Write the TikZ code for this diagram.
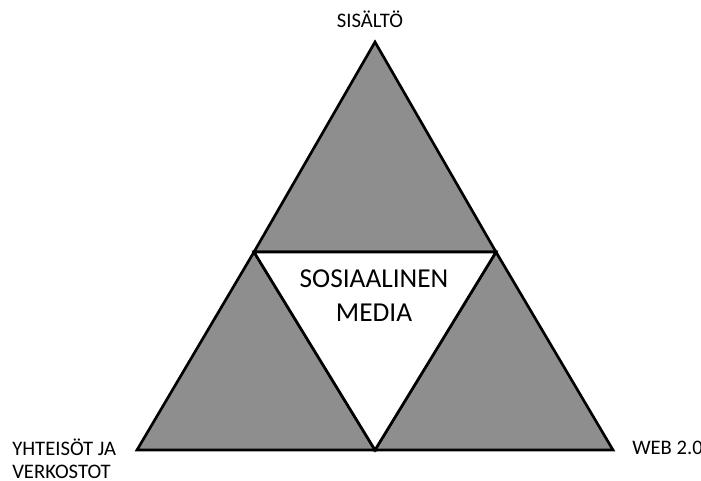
\documentclass[tikz,border=0pt]{standalone}
\usepackage{fontspec}
\setmainfont{Carlito}
\definecolor{tri}{RGB}{142,142,142}
\begin{document}
\begin{tikzpicture}[x=0.75pt,y=-0.75pt,
  part/.style={fill=tri,draw=black,line width=2pt,line join=miter},
  hole/.style={fill=white,draw=black,line width=2pt},
  corner/.style={font=\fontsize{15.5}{18}\selectfont,inner sep=0pt},
  centre/.style={font=\fontsize{20.5}{25.5}\selectfont,align=center,inner sep=0pt}]
\useasboundingbox (0,0) rectangle (701,481);
% corners of the outer triangle and the inner vertices
\coordinate (top) at (375,42);
\coordinate (bl) at (137,450);
\coordinate (br) at (613,450);
\coordinate (ml) at (254,252);
\coordinate (mr) at (496,252);
\coordinate (mb) at (375,450);
% three shaded corner triangles
\draw[part] (top) -- (mr) -- (ml) -- cycle;
\draw[part] (ml) -- (mb) -- (bl) -- cycle;
\draw[part] (mr) -- (br) -- (mb) -- cycle;
% inverted middle triangle
\draw[hole] (ml) -- (mr) -- (mb) -- cycle;
% labels
\node[centre] (sm) at (374,296) {SOSIAALINEN\\MEDIA};
\node[corner] (sis) at (370,19) {SISÄLTÖ};
\node[corner,anchor=west,align=left,font=\fontsize{15.5}{17.5}\selectfont] (yht) at (12,458.5) {YHTEISÖT JA\\VERKOSTOT};
\node[corner,anchor=west] (web) at (632,447.5) {WEB 2.0};
\end{tikzpicture}
\end{document}
